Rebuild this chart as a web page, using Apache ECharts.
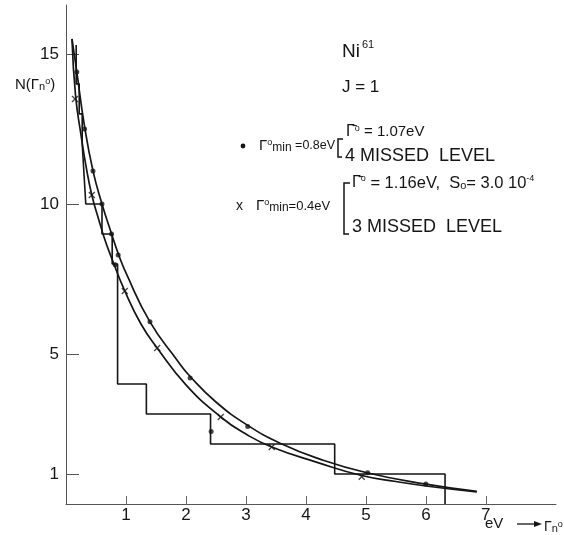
<!DOCTYPE html>
<html><head><meta charset="utf-8">
<script src="https://cdn.jsdelivr.net/npm/echarts@6/dist/echarts.min.js"></script>
<style>html,body{margin:0;padding:0;background:#fff}#c{width:564px;height:535px}</style>
</head><body><div id="c"></div>
<script>
// ---- data ----
const yTickValues = [1, 5, 10, 15];
const xTickValues = [1, 2, 3, 4, 5, 6, 7];

// smooth curve through the "dot" set (Γmin = 0.8 eV)
const curveDotG = [0.10, 0.18, 0.30, 0.45, 0.60, 0.76, 0.87, 1.00, 1.40, 1.85, 2.07, 2.50, 3.03, 3.60, 4.20, 5.00, 6.00, 6.85];
const curveDotN = [15.5, 14.4, 12.7, 11.1, 10.0, 9.0, 8.35, 7.7, 6.07, 4.8, 4.25, 3.4, 2.62, 2.0, 1.52, 1.05, 0.66, 0.42];

// smooth curve through the "x" set (Γmin = 0.4 eV)
const curveCrossG = [0.10, 0.16, 0.25, 0.33, 0.43, 0.55, 0.65, 0.77, 0.98, 1.25, 1.52, 2.00, 2.58, 3.00, 3.43, 4.20, 4.93, 5.50, 6.00, 6.85];
const curveCrossN = [15.5, 13.6, 12.3, 11.3, 10.3, 9.45, 8.8, 8.15, 7.1, 6.0, 5.2, 3.97, 2.9, 2.33, 1.9, 1.38, 0.95, 0.75, 0.6, 0.4];

// plotted points
const dotG = [0.18, 0.31, 0.45, 0.60, 0.76, 0.82, 0.87, 1.40, 2.07, 2.42, 3.03, 5.03, 6.00];
const dotN = [14.4, 12.5, 11.1, 10.0, 9.0, 7.97, 8.3, 6.07, 4.2, 2.42, 2.58, 1.04, 0.67];
const crossG = [0.15, 0.43, 0.98, 1.52, 2.58, 3.43, 4.93];
const crossN = [13.5, 10.3, 7.1, 5.2, 2.9, 1.9, 0.91];

// experimental staircase N(Γ): edges and the count just after each edge
const stairEdges = [0.17, 0.22, 0.27, 0.30, 0.33, 0.60, 0.77, 0.86, 1.34, 2.41, 4.48, 6.32];
const stairAfter = [14, 13, 12, 11, 10, 9, 8, 4, 3, 2, 1, 0];
const stairTop = 15.3;

// ---- build ----
const zip = (a, b) => a.map((v, i) => [v, b[i]]);
const stairPts = [[stairEdges[0], stairTop]];
stairEdges.forEach((e, i) => {
  if (i > 0) stairPts.push([e, stairAfter[i - 1]]);
  stairPts.push([e, stairAfter[i]]);
});

const F = "'Liberation Sans',Arial,sans-serif";
const INK = '#151515';
const chart = echarts.init(document.getElementById('c'), null, {renderer: 'canvas'});

const txt = (x, y, text, size, extra) => Object.assign({
  type: 'text', x: x, y: y,
  style: Object.assign({text: text, font: size + 'px ' + F, fill: INK, textVerticalAlign: 'middle'}, extra || {})
});

const mkRich = (g, t) => ({
  g: {fontSize: g, fontFamily: F, color: INK},
  o: {fontSize: 9, fontFamily: F, color: INK, verticalAlign: 'top'},
  m: {fontSize: 12, fontFamily: F, color: INK, verticalAlign: 'bottom'},
  t: {fontSize: t, fontFamily: F, color: INK},
  s: {fontSize: 9, fontFamily: F, color: INK, verticalAlign: 'top'},
  n: {fontSize: 11, fontFamily: F, color: INK, verticalAlign: 'bottom'}
});
const richTxt = (x, y, text, g, t) => ({
  type: 'text', x: x, y: y,
  style: {text: text, rich: mkRich(g, t), textVerticalAlign: 'middle', fill: INK, font: t + 'px ' + F}
});

chart.setOption({
  animation: false,
  backgroundColor: '#fff',
  grid: {left: 66, right: 8, top: 5, bottom: 31},
  xAxis: {
    type: 'value', min: 0, max: 8.17,
    splitLine: {show: false},
    axisLine: {lineStyle: {color: '#555', width: 1}},
    axisTick: {inside: true, length: 8, customValues: xTickValues, lineStyle: {color: '#666', width: 1}},
    axisLabel: {customValues: xTickValues, margin: 3, fontSize: 17, color: INK, fontFamily: F}
  },
  yAxis: {
    type: 'value', min: 0, max: 16.63,
    splitLine: {show: false},
    axisLine: {lineStyle: {color: '#555', width: 1}},
    axisTick: {inside: true, length: 13, customValues: yTickValues, lineStyle: {color: '#555', width: 1}},
    axisLabel: {customValues: yTickValues, margin: 7, fontSize: 17, color: INK, fontFamily: F}
  },
  series: [
    {type: 'line', data: stairPts, symbol: 'none', smooth: false,
     lineStyle: {color: INK, width: 1.6}, z: 2},
    {type: 'line', data: zip(curveDotG, curveDotN), symbol: 'none', smooth: 0.5,
     lineStyle: {color: INK, width: 1.7}, z: 3},
    {type: 'line', data: zip(curveCrossG, curveCrossN), symbol: 'none', smooth: 0.5,
     lineStyle: {color: INK, width: 1.7}, z: 3},
    {type: 'scatter', data: zip(dotG, dotN), symbol: 'circle', symbolSize: 5,
     itemStyle: {color: INK}, z: 4},
    {type: 'scatter', data: zip(crossG, crossN), symbol: 'path://M0,0L10,10M10,0L0,10', symbolSize: 6,
     itemStyle: {color: 'none', borderColor: INK, borderWidth: 1.3}, z: 4}
  ],
  graphic: [
    // y axis name
    richTxt(15, 85, '{g|N(Γ}{n|n}{s|o}{g|)}', 15, 15),
    // title
    txt(342, 52, 'Ni', 19),
    txt(362, 45, '61', 11),
    txt(342, 87, 'J = 1', 17),
    // legend 1
    {type: 'circle', shape: {cx: 243, cy: 146, r: 2.4}, style: {fill: INK}},
    richTxt(259, 146, '{g|Γ}{o|o}{m|min}{t| =0.8eV}', 15, 12.5),
    {type: 'polyline', shape: {points: [[343, 139], [338, 139], [338, 157], [342, 157]]}, style: {stroke: INK, lineWidth: 1.5, fill: null}},
    richTxt(346, 132, '{g|Γ̄}{o|o}{t| = 1.07eV}', 16, 15),
    txt(345, 156, '4 MISSED  LEVEL', 18),
    // legend 2
    txt(236, 206, 'x', 14),
    richTxt(256, 206, '{g|Γ}{o|o}{m|min}{t|=0.4eV}', 15, 13),
    {type: 'polyline', shape: {points: [[350, 183], [344, 183], [344, 234], [349, 234]]}, style: {stroke: INK, lineWidth: 1.5, fill: null}},
    richTxt(352, 183, '{g|Γ̄}{o|o}{t| = 1.16eV,  S}{n|o}{t|= 3.0 10}{s|-4}', 16, 16.5),
    txt(352, 227, '3 MISSED  LEVEL', 18),
    // x axis unit / name
    txt(485, 524, 'eV', 15),
    {type: 'line', shape: {x1: 517, y1: 524, x2: 536, y2: 524}, style: {stroke: INK, lineWidth: 1.3}},
    {type: 'polygon', shape: {points: [[542, 524], [534, 521], [534, 527]]}, style: {fill: INK}},
    richTxt(544, 527, '{g|Γ}{n|n}{s|o}', 14, 14)
  ]
});
</script></body></html>
